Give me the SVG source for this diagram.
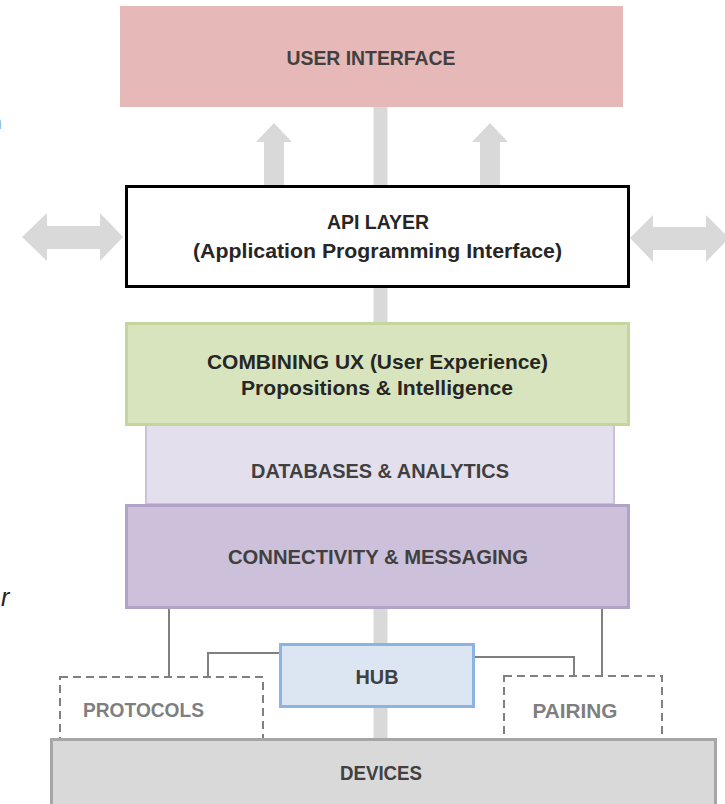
<svg xmlns="http://www.w3.org/2000/svg" width="725" height="804" viewBox="0 0 725 804">
<style>
.t{font-family:"Liberation Sans",Arial,sans-serif;font-weight:bold;font-size:21px;text-anchor:middle;fill:#404040}
.frag{font-family:"Liberation Sans",Arial,sans-serif;font-size:21px;fill:#222}
.link{fill:none;stroke:#808080;stroke-width:2}
.arrow{fill:#d9d9d9}
.dash{fill:#fff;stroke:#808080;stroke-width:2;stroke-dasharray:8,5}
</style>
<rect width="725" height="804" fill="#fff"/>
<text class="frag" x="-10" y="129" style="fill:#555">n</text>
<text class="frag" x="1" y="606" font-style="italic" style="font-size:25px">r</text>
<g id="connectors">
  <rect class="arrow" x="373.5" y="100" width="14" height="645"/>
  <polygon class="arrow" points="264,187 264,142 256,142 274,123 292,142 284,142 284,187"/>
  <polygon class="arrow" points="480,187 480,142 472,142 490,123 508,142 500,142 500,187"/>
  <polygon class="arrow" points="22,237 47,213 47,226 100,226 100,213 123,237 100,261 100,249 47,249 47,261"/>
  <polygon class="arrow" points="630,238 653,215 653,227 706,227 706,215 729,238 706,262 706,250 653,250 653,262"/>
  <polyline class="link" points="169,608 169,677"/>
  <polyline class="link" points="602,608 602,676"/>
  <polyline class="link" points="280,653 208,653 208,677"/>
  <polyline class="link" points="474,657 574,657 574,676"/>
</g>
<g id="user-interface">
  <rect x="120" y="6" width="503" height="101" fill="#e6b8b7"/>
  <text class="t" x="371" y="65" textLength="169" lengthAdjust="spacingAndGlyphs">USER INTERFACE</text>
</g>
<g id="api-layer">
  <rect x="126.5" y="186.5" width="502" height="100" fill="#fff" stroke="#000" stroke-width="3"/>
  <text class="t" x="378" y="229" style="fill:#262626" textLength="102" lengthAdjust="spacingAndGlyphs">API LAYER</text>
  <text class="t" x="377.5" y="258" style="fill:#262626" textLength="369" lengthAdjust="spacingAndGlyphs">(Application Programming Interface)</text>
</g>
<g id="databases">
  <rect x="146" y="420" width="468" height="84" fill="#e4dfec" stroke="#ccc0da" stroke-width="2"/>
  <text class="t" x="380" y="478" textLength="258" lengthAdjust="spacingAndGlyphs">DATABASES &amp; ANALYTICS</text>
</g>
<g id="combining-ux">
  <rect x="126.5" y="323.5" width="502" height="101" fill="#d7e4bd" stroke="#c3d69b" stroke-width="3"/>
  <text class="t" x="377.5" y="369" style="fill:#262626" textLength="341" lengthAdjust="spacingAndGlyphs">COMBINING UX (User Experience)</text>
  <text class="t" x="377" y="395" style="fill:#262626" textLength="272" lengthAdjust="spacingAndGlyphs">Propositions &amp; Intelligence</text>
</g>
<g id="connectivity">
  <rect x="126.5" y="505.5" width="502" height="102" fill="#ccc0da" stroke="#b3a2c7" stroke-width="3"/>
  <text class="t" x="378" y="564" textLength="300" lengthAdjust="spacingAndGlyphs">CONNECTIVITY &amp; MESSAGING</text>
</g>
<g id="hub">
  <rect x="280.5" y="644.5" width="193" height="62" fill="#dce6f2" stroke="#8db3e2" stroke-width="3"/>
  <text class="t" x="377" y="684" textLength="43" lengthAdjust="spacingAndGlyphs">HUB</text>
</g>
<g id="protocols">
  <rect x="60" y="677" width="203" height="65" class="dash"/>
  <text class="t" x="143.5" y="717" style="fill:#7f7f7f" textLength="121" lengthAdjust="spacingAndGlyphs">PROTOCOLS</text>
</g>
<g id="pairing">
  <rect x="504" y="676" width="158" height="66" class="dash"/>
  <text class="t" x="575" y="718" style="fill:#7f7f7f" textLength="85" lengthAdjust="spacingAndGlyphs">PAIRING</text>
</g>
<g id="devices">
  <rect x="51.5" y="739.5" width="664" height="80" fill="#d9d9d9" stroke="#a6a6a6" stroke-width="3"/>
  <text class="t" x="381" y="780" textLength="82" lengthAdjust="spacingAndGlyphs">DEVICES</text>
</g>
</svg>
